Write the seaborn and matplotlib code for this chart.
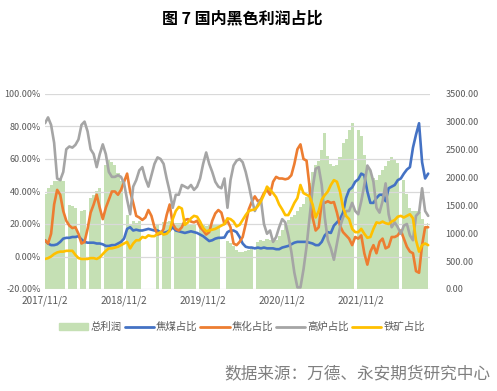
import numpy as np
import pandas as pd
import matplotlib
matplotlib.use("Agg")
import matplotlib.pyplot as plt
from matplotlib.patches import Patch
from matplotlib.lines import Line2D
import seaborn as sns

# biweekly samples, 2017/11/2 -> 2022/9
x_ticklabels = ["2017/11/2", "2018/11/2", "2019/11/2", "2020/11/2", "2021/11/2"]

coal = [10, 8, 7, 7, 7.5, 9, 11, 11.5, 11.5, 12, 12, 12.5, 10.5, 9, 8.5, 8.5, 8.5, 8, 8, 7.5,
        6.5, 6.5, 7, 7, 8, 9, 11, 17, 18, 16, 16.5, 16, 16, 16.5, 17, 16.5, 16, 16, 15, 14.5,
        15, 16, 18, 16, 15.5, 15, 14.5, 15, 15.5, 15, 14.5, 13.5, 12.5, 11, 9.5, 10, 11, 11.5, 11.5, 11.7,
        15, 16, 16, 15, 12, 8, 6, 5.5, 5.5, 5, 5.5, 5, 5.5, 5, 5, 5, 4.5, 4.5, 5.5, 6,
        6.5, 7.5, 8.5, 9, 9, 9, 9, 8.5, 8, 7, 7, 9, 13, 15, 14.5, 19, 21, 23, 27, 36,
        41, 42.5, 46, 47.5, 51, 50, 40, 33, 33, 36, 38, 38, 34, 42, 43, 44, 47, 48, 51, 53.5,
        55, 67, 75, 82, 58, 48, 51]

coke = [10, 8, 14, 32, 41, 38, 28, 22, 19, 17.5, 18, 14, 8, 9, 17, 27, 32, 38, 30, 23,
        30, 35, 40, 40, 38, 41, 46, 51, 40, 33, 25, 24, 22.5, 24, 28.6, 25, 18, 13.5, 14, 17,
        25.5, 32, 20, 17, 16, 18, 22.5, 23, 21.5, 21, 22, 18, 16, 13.5, 15, 22, 26.5, 28.6, 27, 20,
        22, 18, 8, 7, 9, 12, 20, 29, 33.7, 37, 34, 35, 39, 41, 38, 46, 49, 48, 48, 47.5,
        48, 50, 57, 66, 69, 60, 59, 43, 24, 16, 18, 33, 33, 34, 33, 33.5, 27, 19, 15, 13,
        11, 7, 12, 11, 13, 2, -5, 3, 7, 2, 9, 11, 5, 6, 12, 12, 13, 16, 11, 6,
        3, 2, -9, -10, 7, 18, 18]

furnace = [82, 85.6, 81, 70, 48, 47, 52, 66, 67.7, 67, 68.7, 72, 81, 83, 77, 66, 63, 55, 63, 69,
           63, 52, 49, 49, 50, 49, 45, 35, 26, 43, 47, 53, 55, 48, 43, 50, 57, 61, 60, 57,
           48, 40, 30, 38, 38, 44, 43, 42, 44, 41, 43, 48, 57, 64, 57, 52, 46, 43, 42, 48,
           30, 47, 56, 59, 60, 58, 52, 44, 35, 28, 32, 35, 20, 14, 16, 9, 12, 18, 23, 21,
           13, 3, -10, -19, -19, -8, 6, 24, 42, 54, 55, 44, 24, 10, 5, -2, 8, 18, 24, 28,
           28, 33, 28, 26, 34, 44, 56, 53, 46, 30, 27, 34, 45, 26, 18, 21, 18, 14, 19, 20,
           13, 10, 25, 27, 42, 28, 25]

ore = [-1.5, -1, 0, 1.5, 2.5, 3, 3, 3.5, 3.5, 3.5, 1, -1, -1.5, -1.5, -1.5, -1, -1, -1.5, -0.5, 1.5,
       3.5, 5, 5, 5.5, 6, 7, 8, 9, 5, 8, 10, 10, 12, 11.5, 13, 12.5, 12.5, 14, 15, 13.5,
       14, 16, 23, 28, 30.5, 29.5, 19.5, 21, 23.5, 25, 24.5, 21.5, 17.5, 15.5, 16, 16.5, 17, 18, 19, 20,
       23.5, 23, 21.5, 18.5, 19.5, 22.5, 25.5, 28, 28.6, 29, 31, 34, 38, 43, 41, 39, 36.5, 32, 29, 25.5,
       25.5, 29, 33, 36, 44, 39, 38, 37, 32, 24, 28, 35, 37.8, 40, 44, 47, 46, 40, 30, 25,
       23, 17, 15, 15, 17, 14, 11.5, 12, 17, 21, 20.5, 21.5, 20.5, 20, 21.5, 22.5, 24.5, 25, 24, 25,
       26, 23.5, 10, 3, 7, 8, 7]

profit = [1700, 1814, 1874, 1934, 1934, 1990, 1930, 0, 1515, 1485, 1455, 0, 1395, 1425, 0, 1635, 1694, 1754, 1814, 0,
          2233, 2322, 2280, 2233, 2083, 1934, 0, 1336, 1156, 1216, 1186, 1216, 0, 0, 0, 0, 0, 1150, 0, 1200,
          1210, 1216, 0, 1190, 1180, 1180, 1160, 1150, 1160, 1150, 0, 1150, 1140, 1130, 1150, 1160, 1160, 1170, 0, 0,
          870, 820, 780, 700, 660, 670, 680, 700, 720, 0, 850, 880, 870, 900, 880, 860, 880, 950, 1050, 1150,
          1240, 1300, 1320, 1400, 1480, 1520, 1660, 1900, 2100, 2230, 2300, 2500, 2800, 2380, 2250, 2200, 2230, 2375, 2615, 2700,
          2850, 2974, 0, 2855, 2750, 2400, 2200, 2120, 1990, 1960, 2050, 2140, 2200, 2300, 2375, 2330, 2270, 0, 1950, 1700,
          1450, 1400, 1400, 1380, 1250, 1120, 1180]

names = ["焦煤占比", "焦化占比", "高炉占比", "铁矿占比"]
colors = ["#4472C4", "#ED7D31", "#A5A5A5", "#FFC000"]
green = "#C5E0B4"
txt = "#595959"

idx = np.arange(len(coal))
df = pd.DataFrame({"idx": idx, names[0]: coal, names[1]: coke, names[2]: furnace, names[3]: ore})
long_df = df.melt(id_vars="idx", var_name="series", value_name="value")

sns.set_style("white")
plt.rcParams["font.family"] = ["Noto Sans CJK SC", "DejaVu Sans"]
plt.rcParams["axes.unicode_minus"] = False

fig = plt.figure(figsize=(4.97, 3.91), dpi=100)
ax = fig.add_axes([45 / 497, 1 - 289 / 391, 385 / 497, 195 / 391])
ax2 = ax.twinx()

ax2.fill_between(idx, 0, profit, step="mid", color=green, lw=0)
ax2.set_ylim(0, 3500)
ax2.set_yticks(np.arange(0, 3501, 500))
ax2.set_yticklabels([f"{v:.2f}" for v in np.arange(0, 3501, 500)])

sns.lineplot(data=long_df, x="idx", y="value", hue="series", hue_order=names,
             palette=colors, lw=1.9, ax=ax, legend=False)

ax.set_zorder(ax2.get_zorder() + 1)
ax.patch.set_visible(False)

ax.set_ylim(-20, 100)
ax.set_yticks(np.arange(-20, 101, 20))
ax.set_yticklabels([f"{v:.2f}%" for v in np.arange(-20, 101, 20)])
ax.set_xlim(0, len(coal) - 0.4)
ax.set_xticks([0, 26, 52, 78, 104])
ax.set_xticklabels(x_ticklabels)
ax.set_xlabel("")
ax.set_ylabel("")
ax.yaxis.grid(True, color="#D9D9D9", lw=0.9)
ax.xaxis.grid(False)
ax2.grid(False)
for a in (ax, ax2):
    for s in a.spines.values():
        s.set_visible(False)
ax.tick_params(axis="y", length=0, labelsize=6.5, colors=txt, pad=3)
ax.tick_params(axis="x", length=0, labelsize=7.2, colors=txt, pad=5)
ax2.tick_params(axis="y", length=0, labelsize=6.5, colors=txt, pad=11)

fig.text(242 / 497, 1 - 18 / 391, "图 7 国内黑色利润占比", ha="center", va="center",
         fontsize=11.5, fontweight="bold", color="black")

handles = [Patch(color=green)] + [Line2D([], [], color=c, lw=2) for c in colors]
labels = ["总利润"] + names
fig.legend(handles, labels, loc="center", bbox_to_anchor=(242 / 497, 1 - 327 / 391), ncol=5,
           frameon=False, fontsize=7.5, handlelength=2.8, handletextpad=0.2, columnspacing=0.3,
           labelcolor=txt)

fig.text(490 / 497, 1 - 374 / 391, "数据来源：万德、永安期货研究中心", ha="right", va="center",
         fontsize=12, color="#7F7F7F")

fig.savefig("out.png", dpi=100)
